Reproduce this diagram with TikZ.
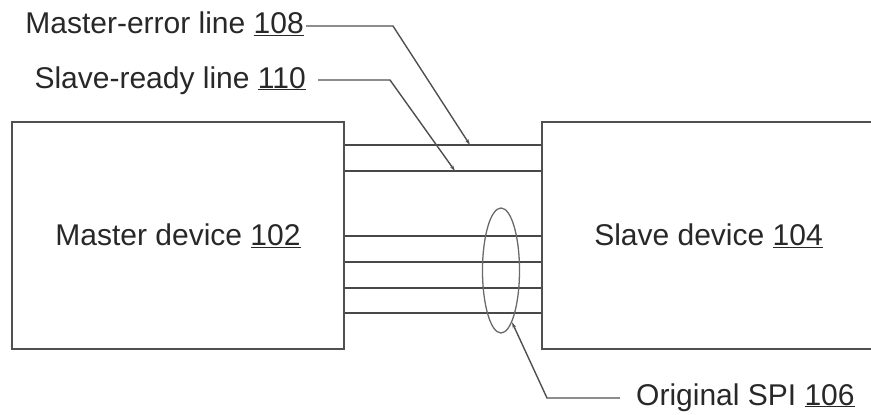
\documentclass[tikz,border=0pt]{standalone}
\usepackage{fontspec}
\setmainfont{Liberation Sans}
\usetikzlibrary{shapes.geometric,arrows.meta}
\definecolor{linegray}{RGB}{80,80,80}
\definecolor{textgray}{RGB}{40,40,40}
\tikzset{
  device/.style={draw=linegray, line width=1.8pt, minimum height=227pt, inner sep=0pt},
  bus/.style={draw=linegray!90!black, line width=1.8pt},
  leader/.style={draw=linegray, line width=1.4pt, -{Stealth[length=6pt,width=3.5pt]}},
  lbl/.style={text=textgray, inner sep=2pt}
}
\begin{document}
\begin{tikzpicture}[x=1pt, y=-1pt, font=\fontsize{30}{34}\selectfont]
            \useasboundingbox (0,0) rectangle (871,415);
            \clip (0,0) rectangle (871,415);

            % Master device
            \node[device, lbl, minimum width=332pt] (master) at (178,235.5) {Master device \underline{102}};

            % Slave device
            \node[device, lbl, minimum width=333pt] (slave) at (708.5,235.5) {Slave device \underline{104}};

            % Lines between the devices
            \foreach \y/\name in {145/err, 171/rdy, 236/spia, 262/spib, 288/spic, 313/spid} {
                \coordinate (\name) at (0,\y);
                \draw[bus] (master.east |- \name) -- (slave.west |- \name);
            }

            % Original SPI bundle
            \node[ellipse, draw=linegray!85, line width=1.3pt, minimum width=37pt, minimum height=125pt] (spi) at (501,270.5) {};

            % Labels
            \node[lbl, anchor=base east] (errlbl) at (306,34) {Master-error line \underline{108}};
            \node[lbl, anchor=base east] (rdylbl) at (308,88) {Slave-ready line \underline{110}};
            \node[lbl, anchor=base west] (spilbl) at (634,405) {Original SPI \underline{106}};

            % Leader lines
            \coordinate (errtip) at (470,145);
            \coordinate (rdytip) at (455,171);
            \draw[leader] (errlbl.east |- 0,26) -- (393,26) -- (errtip);
            \draw[leader] (318,80) -- (390,80) -- (rdytip);
            \draw[leader] (620,398) -- (547,398) -- (spi.-78);
        \end{tikzpicture}
\end{document}
